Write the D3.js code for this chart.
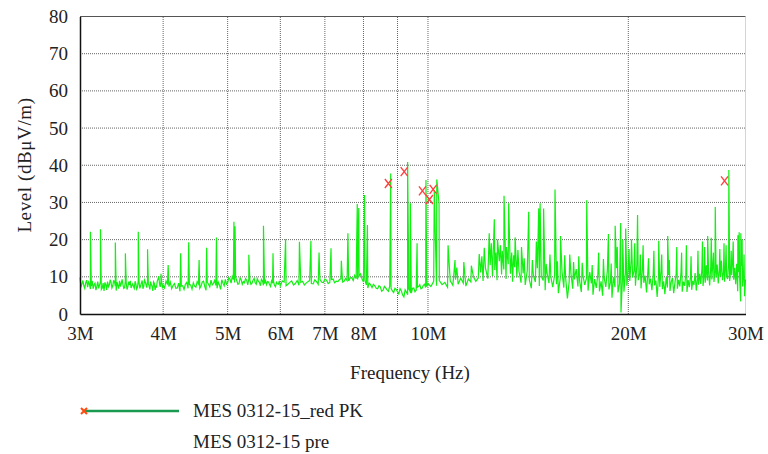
<!DOCTYPE html>
<html>
<head>
    <title>Emission Scan</title>
    <script src="https://d3js.org/d3.v7.min.js"></script>
    <style>
        body { margin: 0; background: #fff; }
        text { font-family: "Liberation Serif", "Times New Roman", serif; fill: #222; }
    </style>
</head>
<body>
    <svg id="chart" width="768" height="454"></svg>

    <script>
        // tick labels / grid positions (MHz)
        const xTicks = [3, 4, 5, 6, 7, 8, 10, 20, 30];
        const xTickLabels = ["3M", "4M", "5M", "6M", "7M", "8M", "10M", "20M", "30M"];
        const xGrid = [4, 5, 6, 7, 8, 9, 10, 20];
        const yTicks = [0, 10, 20, 30, 40, 50, 60, 70, 80];

        // noise floor of the pre-scan [MHz, dBuV/m]
        const floorLow = [
            [3.00,9.8],[3.02,8.1],[3.04,7.6],[3.06,8.4],[3.08,7.2],[3.10,8.0],[3.12,7.5],[3.14,6.8],[3.16,8.3],[3.18,7.4],
            [3.20,6.9],[3.22,8.6],[3.24,7.0],[3.26,6.2],[3.28,7.9],[3.30,8.7],[3.32,7.8],[3.34,8.5],[3.36,7.6],[3.38,8.8],
            [3.40,6.3],[3.42,7.7],[3.44,8.9],[3.46,8.2],[3.48,8.0],[3.50,7.1],[3.52,8.4],[3.54,7.3],[3.56,7.8],[3.58,7.0],
            [3.60,8.1],[3.62,6.9],[3.64,8.0],[3.66,7.2],[3.68,8.5],[3.70,7.6],[3.72,9.0],[3.74,7.4],[3.76,8.6],[3.78,7.1],
            [3.80,8.3],[3.82,6.6],[3.84,7.9],[3.86,6.2],[3.88,8.2],[3.90,7.5],[3.92,8.9],[3.94,10.2],[3.96,7.3],[3.98,8.4],
            [4.00,7.8],[4.04,8.9],[4.08,7.4],[4.12,6.8],[4.16,8.2],[4.20,7.0],[4.24,6.1],[4.28,7.6],[4.32,8.0],[4.36,6.9],
            [4.40,7.8],[4.44,8.4],[4.48,7.2],[4.52,8.1],[4.56,7.5],[4.60,8.8],[4.64,6.4],[4.68,8.0],[4.72,9.1],[4.76,8.2],
            [4.80,7.7],[4.84,8.6],[4.88,6.6],[4.92,8.3],[4.96,9.3],[5.00,8.4],[5.04,9.4],[5.08,10.1],[5.12,8.5],[5.16,9.0],
            [5.20,8.1],[5.24,9.2],[5.28,8.7],[5.32,9.5],[5.36,7.8],[5.40,9.0],[5.44,8.3],[5.48,9.6],[5.52,8.0],[5.56,8.8],
            [5.60,7.6],[5.64,8.9],[5.68,8.2],[5.72,7.9],[5.76,8.6],[5.80,7.4],[5.84,8.3],[5.88,7.7],[5.92,8.5],[5.96,8.0],
            [6.00,7.5],[6.08,8.6],[6.16,8.0],[6.24,8.9],[6.32,8.2],[6.40,7.7],[6.48,8.8],[6.56,8.3],[6.64,9.0],[6.72,8.1],
            [6.80,8.7],[6.88,9.3],[6.96,8.4],[7.04,9.1],[7.12,8.5],[7.20,9.4],[7.28,8.8],[7.36,9.2],[7.44,8.6],[7.52,9.6],
            [7.60,8.9],[7.68,9.8],[7.76,10.4],[7.84,9.3],[7.92,10.8],[8.00,8.6],[8.08,7.8],[8.16,8.3],[8.24,7.1],[8.32,7.6],
            [8.40,6.8],[8.48,7.3],[8.56,6.4],[8.64,7.0],[8.72,6.1],[8.80,6.9],[8.88,5.8],[8.96,6.6],[9.04,5.4],[9.12,6.2],
            [9.20,4.6],[9.28,5.9],[9.36,6.7],[9.44,5.6],[9.52,7.0],[9.60,6.4],[9.68,7.4],[9.76,6.8],[9.84,7.7],[9.92,7.1]
        ];
        const floorLowB = [
            [3.01,7.2],[3.03,9.0],[3.05,6.9],[3.07,9.1],[3.09,8.6],[3.11,6.7],[3.13,8.9],[3.15,7.9],[3.17,6.4],[3.19,8.7],
            [3.21,7.8],[3.23,6.6],[3.25,8.3],[3.27,8.5],[3.29,6.5],[3.31,7.3],[3.33,9.2],[3.35,7.0],[3.37,8.9],[3.39,7.5],
            [3.41,8.6],[3.43,6.8],[3.45,7.4],[3.47,9.3],[3.49,6.9],[3.51,8.8],[3.53,6.6],[3.55,8.7],[3.57,8.9],[3.59,7.7],
            [3.61,7.4],[3.63,8.8],[3.65,6.7],[3.67,8.9],[3.69,6.9],[3.71,8.3],[3.73,6.8],[3.75,9.1],[3.77,7.9],[3.79,8.9],
            [3.81,7.5],[3.83,8.7],[3.85,7.4],[3.87,8.6],[3.89,6.5],[3.91,7.3],[3.93,9.4],[3.95,8.1],[3.97,8.8],[3.99,6.9],
            [4.02,7.0],[4.06,7.9],[4.10,8.6],[4.14,7.7],[4.18,6.9],[4.22,8.3],[4.26,7.5],[4.30,6.6],[4.34,8.5],[4.38,7.9],
            [4.42,6.7],[4.46,7.5],[4.50,8.7],[4.54,6.9],[4.58,8.6],[4.62,7.4],[4.66,8.5],[4.70,7.3],[4.74,7.8],[4.78,9.0],
            [4.82,6.9],[4.86,7.8],[4.90,9.2],[4.94,7.6],[4.98,8.0],[5.02,9.8],[5.06,8.3],[5.10,9.3],[5.14,9.9],[5.18,8.0],
            [5.22,9.7],[5.26,8.0],[5.30,8.4],[5.34,9.1],[5.38,9.4],[5.42,8.0],[5.46,9.1],[5.50,8.4],[5.54,9.5],[5.58,8.5],
            [5.62,9.3],[5.66,7.7],[5.70,9.0],[5.74,8.7],[5.78,7.9],[5.82,8.9],[5.86,8.7],[5.90,7.3],[5.94,8.1],[5.98,8.9],
            [6.04,8.9],[6.12,7.6],[6.20,8.5],[6.28,7.8],[6.36,9.0],[6.44,8.5],[6.52,7.8],[6.60,8.7],[6.68,8.2],[6.76,9.2],
            [6.84,8.0],[6.92,8.6],[7.00,9.4],[7.08,8.2],[7.16,9.3],[7.24,8.4],[7.32,8.7],[7.40,9.5],[7.48,8.8],[7.56,9.0],
            [7.64,9.7],[7.72,9.0],[7.80,9.5],[7.88,10.2],[7.96,9.4],[8.04,9.1],[8.12,7.0],[8.20,7.9],[8.28,8.0],[8.36,6.9],
            [8.44,7.6],[8.52,6.1],[8.60,7.4],[8.68,6.5],[8.76,7.5],[8.84,6.2],[8.92,6.9],[9.00,6.0],[9.08,6.8],[9.16,5.1],
            [9.24,6.5],[9.32,5.2],[9.40,6.1],[9.48,6.9],[9.56,6.0],[9.64,7.2],[9.72,7.9],[9.80,7.0],[9.88,8.0],[9.96,7.4]
        ];
        const floorMid = [
            [10.0,8.2],[10.1,7.4],[10.2,8.8],[10.3,7.6],[10.4,9.0],[10.5,7.9],[10.6,8.5],[10.7,7.2],[10.8,8.9],[10.9,7.7],
            [11.0,9.2],[11.1,8.0],[11.2,9.6],[11.3,8.3],[11.4,7.5],[11.5,9.4],[11.6,8.6],[11.7,10.1],[11.8,8.8],[11.9,9.7],
            [12.0,11.2],[12.1,8.9],[12.2,12.4],[12.3,9.5],[12.4,13.1],[12.5,10.2],[12.6,11.8],[12.7,9.1],[12.8,14.2],[12.9,10.6],
            [13.0,12.0],[13.1,9.4],[13.2,13.4],[13.3,10.8],[13.4,8.7],[13.5,12.6],[13.6,9.8],[13.7,11.5],[13.8,8.4],[13.9,10.9],
            [14.0,7.8],[14.1,11.7],[14.2,9.2],[14.3,6.9],[14.4,10.4],[14.5,8.6],[14.6,12.3],[14.7,7.5],[14.8,10.1],[14.9,9.0],
            [15.0,6.4],[15.1,11.0],[15.2,8.3],[15.3,9.9],[15.4,7.2],[15.5,10.6],[15.6,8.0],[15.7,5.6],[15.8,9.5],[15.9,11.4],
            [16.0,7.1],[16.1,9.8],[16.2,4.2],[16.3,8.7],[16.4,10.9],[16.5,6.8],[16.6,9.3],[16.7,12.1],[16.8,7.4],[16.9,8.9],
            [17.0,5.9],[17.1,10.2],[17.2,7.8],[17.3,9.6],[17.4,6.3],[17.5,11.3],[17.6,8.2],[17.7,5.2],[17.8,9.4],[17.9,7.0],
            [18.0,10.7],[18.1,6.1],[18.2,8.8],[18.3,4.9],[18.4,9.7],[18.5,7.3],[18.6,11.6],[18.7,6.6],[18.8,8.5],[18.9,4.4],
            [19.0,9.9],[19.1,7.2],[19.2,12.3],[19.3,5.8],[19.4,8.1],[19.5,0.4],[19.6,9.6],[19.7,6.0],[19.8,11.1],[19.9,7.6]
        ];
        const floorHigh = [
            [20.0,12.4],[20.1,8.9],[20.2,14.6],[20.3,9.8],[20.4,11.7],[20.5,7.6],[20.6,13.2],[20.7,9.1],[20.8,10.8],[20.9,6.9],
            [21.0,12.1],[21.1,8.4],[21.2,10.3],[21.3,5.8],[21.4,11.4],[21.5,8.0],[21.6,9.5],[21.7,6.4],[21.8,10.6],[21.9,7.7],
            [22.0,9.0],[22.1,4.6],[22.2,10.2],[22.3,7.3],[22.4,11.8],[22.5,6.7],[22.6,8.8],[22.7,5.3],[22.8,9.9],[22.9,7.1],
            [23.0,10.5],[23.1,6.2],[23.2,8.6],[23.3,9.7],[23.4,5.6],[23.5,8.3],[23.6,10.9],[23.7,6.8],[23.8,9.2],[23.9,7.4],
            [24.0,11.2],[24.1,6.0],[24.2,8.7],[24.3,7.6],[24.4,10.4],[24.5,5.9],[24.6,9.1],[24.7,7.2],[24.8,10.0],[24.9,6.5],
            [25.0,8.9],[25.1,7.8],[25.2,11.0],[25.3,6.3],[25.4,9.5],[25.5,7.9],[25.6,10.8],[25.7,8.1],[25.8,12.2],[25.9,7.5],
            [26.0,10.6],[26.1,8.4],[26.2,13.1],[26.3,9.0],[26.4,11.5],[26.5,7.7],[26.6,12.6],[26.7,9.3],[26.8,14.0],[26.9,8.6],
            [27.0,11.9],[27.1,9.8],[27.2,13.3],[27.3,8.2],[27.4,12.1],[27.5,10.0],[27.6,14.4],[27.7,9.1],[27.8,11.3],[27.9,8.7],
            [28.0,12.8],[28.1,10.2],[28.2,9.4],[28.3,13.6],[28.4,8.9],[28.5,11.7],[28.6,10.5],[28.7,14.8],[28.8,9.2],[28.9,12.4],
            [29.0,8.0],[29.1,13.5],[29.2,6.1],[29.3,11.2],[29.4,9.6],[29.5,3.4],[29.6,12.9],[29.7,7.4],[29.8,10.7],[29.9,4.8],
            [30.0,9.3]
        ];

        // narrowband peaks in the pre-scan
        const spikes = [
            [3.11,22.1],[3.22,22.8],[3.39,19.2],[3.51,16.3],[3.67,22.1],[3.79,17.4],[3.97,10.8],[4.07,13.2],[4.25,16.3],[4.37,19.3],
            [4.53,14.5],[4.65,17.8],[4.81,20.6],[5.11,24.8],[5.13,23.6],[5.38,15.9],[5.66,23.7],[5.85,16.3],[6.11,20.1],[6.41,19.4],
            [6.67,19.7],[6.86,16.5],[7.15,17.7],[7.41,14.3],[7.58,21.7],[7.83,29.6],[7.87,28.5],[8.03,32.0],[8.11,23.9],[8.79,37.8],
            [9.32,40.9],[9.41,29.8],[9.63,19.0],[9.93,36.0],[10.22,33.3],[10.31,36.2],[10.39,29.8],[10.72,18.5],[10.98,14.5],[11.32,14.0],
            [11.94,16.1],[12.36,21.7],[12.58,25.5],[12.72,20.0],[12.93,17.0],[13.01,31.8],[13.12,18.0],[13.22,29.8],[13.36,16.5],[13.52,20.6],
            [13.82,18.0],[14.17,27.5],[14.67,28.4],[14.74,29.8],[14.92,28.4],[15.52,33.5],[15.82,21.0],[16.33,16.0],[17.32,30.6],[18.67,21.5],
            [19.11,23.7],[19.48,24.5],[19.82,23.0],[20.22,20.0],[20.65,26.6],[22.22,19.7],[22.92,21.0],[24.45,18.5],[26.32,21.0],[27.02,28.8],
            [28.32,38.7],[29.22,21.2],[29.52,21.7]
        ];
        const minorSpikes = [
            [11.05,12.5],[11.62,13.0],[12.05,15.5],[12.15,17.8],[12.45,19.0],[12.65,16.5],[12.85,18.5],[13.45,15.8],[13.65,17.2],[13.95,15.0],
            [14.35,14.5],[14.55,19.5],[15.05,13.5],[15.25,16.0],[15.65,14.2],[16.05,15.8],[16.55,14.0],[16.85,15.5],[17.05,13.8],[17.65,13.2],
            [18.05,16.5],[18.35,14.8],[18.85,13.6],[19.25,18.0],[19.62,20.0],[20.05,17.5],[20.45,19.0],[20.85,16.0],[21.05,18.5],[21.45,15.0],
            [21.85,17.0],[22.45,16.0],[23.05,14.5],[23.65,18.0],[24.05,16.5],[24.85,15.5],[25.45,17.0],[25.85,19.5],[26.05,18.0],[26.65,20.5],
            [26.85,16.5],[27.45,17.5],[27.85,19.0],[28.05,18.5],[28.55,17.0],[28.75,19.5],[29.35,22.0],[29.65,20.0],[29.85,16.0]
        ];

        // final measurement markers (MES 0312-15_red PK)
        const peakFreq = [8.72, 9.21, 9.81, 10.05, 10.18, 27.9];
        const peakLevel = [35.1, 38.3, 33.1, 30.8, 33.5, 35.8];

        const seriesNames = ["MES 0312-15_red PK", "MES 0312-15 pre"];

        const svg = d3.select("#chart");
        const x = d3.scaleLog().domain([3, 30]).range([80, 745.5]);
        const y = d3.scaleLinear().domain([0, 80]).range([314, 16.5]);

        // grid
        svg.append("g")
            .selectAll("line")
            .data(yTicks.slice(1, -1))
            .join("line")
            .attr("x1", x(3)).attr("x2", x(30))
            .attr("y1", d => y(d)).attr("y2", d => y(d))
            .attr("stroke", "#666").attr("stroke-width", 1)
            .attr("stroke-dasharray", "1,1");

        svg.append("g")
            .selectAll("line")
            .data(xGrid)
            .join("line")
            .attr("x1", d => x(d)).attr("x2", d => x(d))
            .attr("y1", y(0)).attr("y2", y(80))
            .attr("stroke", "#666").attr("stroke-width", 1)
            .attr("stroke-dasharray", "1,1");

        // frame
        svg.append("line")
            .attr("x1", x(3)).attr("x2", x(30))
            .attr("y1", y(80)).attr("y2", y(80))
            .attr("stroke", "#555").attr("stroke-width", 1.2);
        svg.append("line")
            .attr("x1", x(30)).attr("x2", x(30))
            .attr("y1", y(80)).attr("y2", y(0))
            .attr("stroke", "#aaa").attr("stroke-width", 1)
            .attr("stroke-dasharray", "1,1");

        // pre-scan trace
        const trace = floorLow.concat(floorLowB, floorMid, floorHigh, spikes, minorSpikes)
            .sort((a, b) => a[0] - b[0]);

        const line = d3.line()
            .x(d => x(d[0]))
            .y(d => y(d[1]));

        svg.append("path")
            .datum(trace)
            .attr("fill", "none")
            .attr("stroke", "#11f011")
            .attr("stroke-width", 1.2)
            .attr("d", line);

        // axes
        svg.append("g")
            .attr("transform", "translate(0," + y(0) + ")")
            .call(d3.axisBottom(x).tickValues(xTicks).tickSize(0).tickPadding(13)
                .tickFormat((d, i) => xTickLabels[i]))
            .call(g => g.select(".domain").attr("stroke", "#111").attr("stroke-width", 1.5))
            .call(g => g.selectAll("text")
                .style("font-family", "Liberation Serif, serif")
                .style("font-size", "19px").attr("fill", "#222"));

        svg.append("g")
            .attr("transform", "translate(" + x(3) + ",0)")
            .call(d3.axisLeft(y).tickValues(yTicks).tickSize(0).tickPadding(12))
            .call(g => g.select(".domain").attr("stroke", "#111").attr("stroke-width", 1.5))
            .call(g => g.selectAll("text")
                .style("font-family", "Liberation Serif, serif")
                .style("font-size", "19px").attr("fill", "#222"));

        // peak markers
        const cross = "M-3.5,-4.5L3.5,4.5M3.5,-4.5L-3.5,4.5";
        svg.append("g")
            .selectAll("path")
            .data(peakFreq)
            .join("path")
            .attr("transform", (d, i) => "translate(" + x(d) + "," + y(peakLevel[i]) + ")")
            .attr("d", cross)
            .attr("fill", "none")
            .attr("stroke", "#ff4040")
            .attr("stroke-width", 1.4);

        // axis titles
        svg.append("text")
            .attr("x", 410).attr("y", 379)
            .attr("text-anchor", "middle")
            .style("font-size", "19px")
            .text("Frequency (Hz)");

        svg.append("text")
            .attr("transform", "translate(31,165) rotate(-90)")
            .attr("text-anchor", "middle")
            .style("font-size", "19px")
            .style("letter-spacing", "0.6px")
            .text("Level (dBμV/m)");

        // legend
        svg.append("line")
            .attr("x1", 84).attr("x2", 179)
            .attr("y1", 411).attr("y2", 411)
            .attr("stroke", "#1a9a50").attr("stroke-width", 2.5);
        svg.append("path")
            .attr("transform", "translate(84,411)")
            .attr("d", "M-3,-3L3,3M3,-3L-3,3")
            .attr("stroke", "#ff4a10").attr("stroke-width", 2);

        svg.selectAll(".legend")
            .data(seriesNames)
            .join("text")
            .attr("class", "legend")
            .attr("x", 193)
            .attr("y", (d, i) => 417 + i * 31)
            .style("font-size", "19px")
            .text(d => d);
    </script>
</body>
</html>
